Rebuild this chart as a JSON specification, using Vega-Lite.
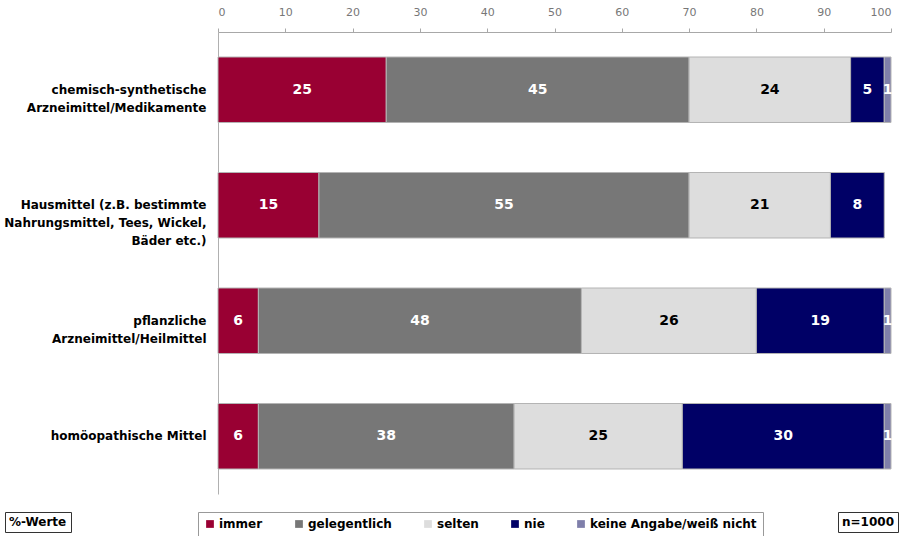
{
  "$schema": "https://vega.github.io/schema/vega-lite/v6.json",
  "width": 673,
  "height": 462,
  "autosize": {"type": "none"},
  "padding": {"left": 218, "top": 32, "right": 12, "bottom": 42},
  "background": "white",
  "config": {"view": {"stroke": null}, "font": "DejaVu Sans"},
  "datasets": {
    "bars": [
      {"cat": "chemisch-synthetische|Arzneimittel/Medikamente", "kat": "immer", "idx": 1, "val": 25},
      {"cat": "chemisch-synthetische|Arzneimittel/Medikamente", "kat": "gelegentlich", "idx": 2, "val": 45},
      {"cat": "chemisch-synthetische|Arzneimittel/Medikamente", "kat": "selten", "idx": 3, "val": 24},
      {"cat": "chemisch-synthetische|Arzneimittel/Medikamente", "kat": "nie", "idx": 4, "val": 5},
      {"cat": "chemisch-synthetische|Arzneimittel/Medikamente", "kat": "keine Angabe/weiß nicht", "idx": 5, "val": 1},
      {"cat": "Hausmittel (z.B. bestimmte|Nahrungsmittel, Tees, Wickel,|Bäder etc.)", "kat": "immer", "idx": 1, "val": 15},
      {"cat": "Hausmittel (z.B. bestimmte|Nahrungsmittel, Tees, Wickel,|Bäder etc.)", "kat": "gelegentlich", "idx": 2, "val": 55},
      {"cat": "Hausmittel (z.B. bestimmte|Nahrungsmittel, Tees, Wickel,|Bäder etc.)", "kat": "selten", "idx": 3, "val": 21},
      {"cat": "Hausmittel (z.B. bestimmte|Nahrungsmittel, Tees, Wickel,|Bäder etc.)", "kat": "nie", "idx": 4, "val": 8},
      {"cat": "pflanzliche|Arzneimittel/Heilmittel", "kat": "immer", "idx": 1, "val": 6},
      {"cat": "pflanzliche|Arzneimittel/Heilmittel", "kat": "gelegentlich", "idx": 2, "val": 48},
      {"cat": "pflanzliche|Arzneimittel/Heilmittel", "kat": "selten", "idx": 3, "val": 26},
      {"cat": "pflanzliche|Arzneimittel/Heilmittel", "kat": "nie", "idx": 4, "val": 19},
      {"cat": "pflanzliche|Arzneimittel/Heilmittel", "kat": "keine Angabe/weiß nicht", "idx": 5, "val": 1},
      {"cat": "homöopathische Mittel", "kat": "immer", "idx": 1, "val": 6},
      {"cat": "homöopathische Mittel", "kat": "gelegentlich", "idx": 2, "val": 38},
      {"cat": "homöopathische Mittel", "kat": "selten", "idx": 3, "val": 25},
      {"cat": "homöopathische Mittel", "kat": "nie", "idx": 4, "val": 30},
      {"cat": "homöopathische Mittel", "kat": "keine Angabe/weiß nicht", "idx": 5, "val": 1}
    ],
    "noteLeft": [{"note": "%-Werte"}],
    "noteRight": [{"note": "n=1000"}]
  },
  "resolve": {"scale": {"shape": "independent"}, "legend": {"shape": "independent"}},
  "layer": [
    {
      "data": {"name": "bars"},
      "transform": [
        {"stack": "val", "groupby": ["cat"], "sort": [{"field": "idx", "order": "ascending"}], "as": ["x0", "x1"]}
      ],
      "mark": {"type": "bar", "stroke": "#b4b4b4", "strokeWidth": 1},
      "encoding": {
        "y": {
          "field": "cat", "type": "nominal", "sort": null,
          "scale": {"paddingInner": 0.433, "paddingOuter": 0.2165},
          "axis": {
            "title": null, "ticks": false, "domainColor": "#b0b0b0", "domainWidth": 1,
            "labelExpr": "split(datum.label, '|')",
            "labelAlign": "right", "labelBaseline": "middle", "labelPadding": 12,
            "labelFont": "DejaVu Sans", "labelFontSize": 12, "labelFontWeight": "bold",
            "labelColor": "#000000", "labelLimit": 0, "labelLineHeight": 18
          }
        },
        "x": {
          "field": "x0", "type": "quantitative",
          "scale": {"domain": [0, 100], "nice": false},
          "axis": {
            "orient": "top", "title": null, "grid": false, "values": [0,10,20,30,40,50,60,70,80,90,100],
            "domainColor": "#a8a8a8", "tickColor": "#a8a8a8", "tickSize": 4,
            "labelColor": "#777777", "labelFont": "DejaVu Sans", "labelFontSize": 11, "labelPadding": 11
          }
        },
        "x2": {"field": "x1"},
        "color": {
          "field": "kat", "type": "nominal",
          "scale": {
            "domain": ["immer", "gelegentlich", "selten", "nie", "keine Angabe/weiß nicht"],
            "range": ["#990033", "#777777", "#dddddd", "#000066", "#7f7faa"]
          },
          "legend": {
            "orient": "none", "legendX": -20, "legendY": 480, "direction": "horizontal",
            "title": null, "symbolType": "square", "symbolSize": 60, "symbolStrokeWidth": 0,
            "labelFont": "DejaVu Sans", "labelFontSize": 12, "labelFontWeight": "bold", "labelColor": "#000000",
            "labelOffset": 3, "columnPadding": 30, "strokeColor": "#999999", "padding": 6, "labelLimit": 0
          }
        }
      }
    },
    {
      "data": {"name": "bars"},
      "transform": [
        {"stack": "val", "groupby": ["cat"], "sort": [{"field": "idx", "order": "ascending"}], "as": ["x0", "x1"]},
        {"calculate": "(datum.x0 + datum.x1) / 2", "as": "xm"}
      ],
      "mark": {"type": "text", "font": "DejaVu Sans", "fontSize": 14, "fontWeight": "bold", "align": "center", "baseline": "middle"},
      "encoding": {
        "y": {"field": "cat", "type": "nominal", "sort": null},
        "x": {"field": "xm", "type": "quantitative"},
        "text": {"field": "val", "type": "quantitative"},
        "color": {
          "condition": {"test": "datum.kat == 'selten'", "value": "#000000"},
          "value": "#ffffff"
        }
      }
    },
    {
      "data": {"name": "noteLeft"},
      "mark": {"type": "point", "opacity": 0, "size": 0},
      "encoding": {
        "shape": {
          "field": "note", "type": "nominal",
          "legend": {
            "orient": "none", "legendX": -213, "legendY": 480, "title": null,
            "symbolSize": 0, "labelOffset": -12, "symbolStrokeWidth": 0,
            "labelFont": "DejaVu Sans", "labelFontSize": 12, "labelFontWeight": "bold", "labelColor": "#000000",
            "strokeColor": "#333333", "padding": 4
          }
        }
      }
    },
    {
      "data": {"name": "noteRight"},
      "mark": {"type": "point", "opacity": 0, "size": 0},
      "encoding": {
        "shape": {
          "field": "note", "type": "nominal",
          "legend": {
            "orient": "none", "legendX": 620, "legendY": 480, "title": null,
            "symbolSize": 0, "labelOffset": -12, "symbolStrokeWidth": 0,
            "labelFont": "DejaVu Sans", "labelFontSize": 12, "labelFontWeight": "bold", "labelColor": "#000000",
            "strokeColor": "#333333", "padding": 4
          }
        }
      }
    }
  ]
}
